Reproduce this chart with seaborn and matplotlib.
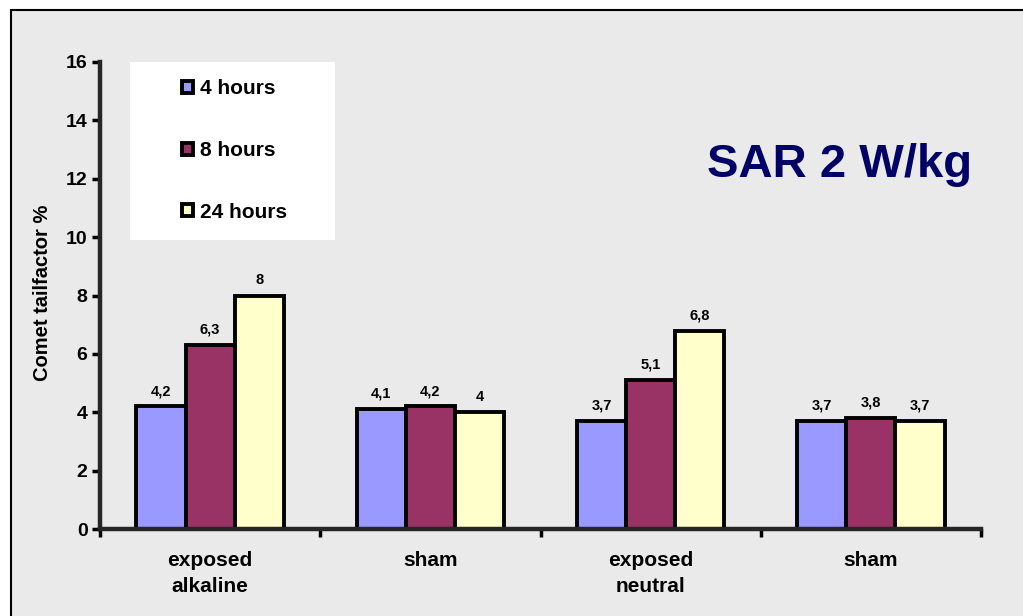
import pandas as pd
import matplotlib.pyplot as plt
import seaborn as sns
from matplotlib.patches import Rectangle
from matplotlib.ticker import FixedLocator

# Data.
groups = ['exposed\nalkaline', 'sham', 'exposed\nneutral', 'sham ']
series = ['4 hours', '8 hours', '24 hours']
h4 = [4.2, 4.1, 3.7, 3.7]
h8 = [6.3, 4.2, 5.1, 3.8]
h24 = [8.0, 4.0, 6.8, 3.7]
colors = ['#9999FF', '#993366', '#FFFFCC']

# Long format for seaborn.
rows = []
for s, vals in zip(series, [h4, h8, h24]):
    for g, v in zip(groups, vals):
        rows.append({'group': g, 'series': s, 'value': v})
df = pd.DataFrame(rows)

sns.set_style('ticks')
plt.rcParams['font.family'] = ['Liberation Sans', 'DejaVu Sans']
plt.rcParams['font.weight'] = 'bold'
plt.rcParams['text.color'] = 'black'
plt.rcParams['xtick.color'] = 'black'
plt.rcParams['ytick.color'] = 'black'
plt.rcParams['axes.labelcolor'] = 'black'

fig = plt.figure(figsize=(10.23, 6.16), dpi=100)
fig.patch.set_facecolor('white')

# Gray panel with black frame.
fig.patches.append(Rectangle((11 / 1023, -0.1), 1.1, (616 - 10) / 616 + 0.1,
                             transform=fig.transFigure, facecolor='#EAEAEA',
                             edgecolor='black', linewidth=1.5, zorder=-10))

ax = fig.add_axes([100 / 1023, 87 / 616, 881 / 1023, 467 / 616])
ax.patch.set_alpha(0)

sns.barplot(data=df, x='group', y='value', hue='series', order=groups,
            hue_order=series, palette=colors, width=0.67, edgecolor='black',
            linewidth=2.8, saturation=1, ax=ax, legend=True)

# Value labels with decimal comma.
for cont in ax.containers:
    labels = [('%g' % b.get_height()).replace('.', ',') for b in cont]
    ax.bar_label(cont, labels=labels, padding=6, fontsize=10.5, fontweight='bold')

ax.set_xlim(-0.5, 3.5)
ax.set_ylim(0, 16)
ax.set_yticks(range(0, 17, 2))
ax.tick_params(axis='y', labelsize=14, length=6, width=2.5, pad=3)

# Ticks at group boundaries, labels at centers.
ax.xaxis.set_major_locator(FixedLocator([-0.5, 0.5, 1.5, 2.5, 3.5]))
ax.set_xticklabels([])
ax.xaxis.set_minor_locator(FixedLocator([0, 1, 2, 3]))
ax.set_xticklabels(['exposed\nalkaline', 'sham', 'exposed\nneutral', 'sham'],
                   minor=True, fontsize=15, fontweight='bold', linespacing=1.45)
ax.tick_params(axis='x', which='major', length=6, width=2.5)
ax.tick_params(axis='x', which='minor', length=0, pad=16)

for side in ['top', 'right']:
    ax.spines[side].set_visible(False)
for side in ['left', 'bottom']:
    ax.spines[side].set_linewidth(3.2)

ax.set_xlabel('')
ax.set_ylabel('Comet tailfactor %', fontsize=14.5, fontweight='bold')
ax.yaxis.set_label_coords(-0.054, 0.505)

# White legend box.
ax.add_patch(Rectangle((130 / 1023, (616 - 240) / 616), 205 / 1023, 187 / 616,
                       transform=fig.transFigure, facecolor='white',
                       edgecolor='none', zorder=1))
handles, labs = ax.get_legend_handles_labels()
leg = ax.legend(handles, labs, loc='upper left',
                bbox_to_anchor=(172 / 1023, (616 - 69) / 616),
                bbox_transform=fig.transFigure, frameon=False,
                fontsize=15, handlelength=0.5, handleheight=0.5,
                handletextpad=0.35, labelspacing=2.05, borderpad=0)
leg.set_zorder(5)
for t in leg.get_texts():
    t.set_fontweight('bold')

fig.text(972 / 1023, (616 - 177) / 616, 'SAR 2 W/kg', ha='right', va='baseline',
         fontsize=34, fontweight='bold', color='#000066')

fig.savefig('out.png', dpi=100)
